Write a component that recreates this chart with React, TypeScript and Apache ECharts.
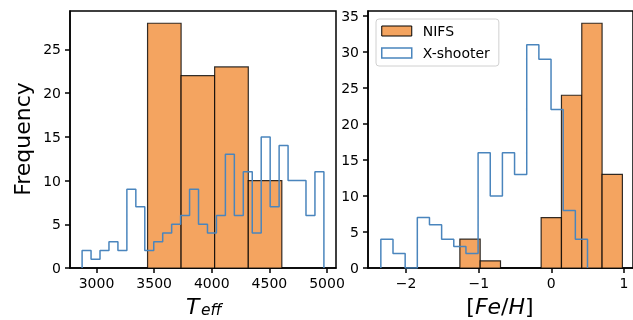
import React, { useEffect, useRef } from "react";
import * as echarts from "echarts";

// ---- Data ----
// Left panel: effective temperature
const teffXshooterRange = [2875, 4973]; // equal-width bins between these limits
const teffXshooterCounts = [2, 1, 2, 3, 2, 9, 7, 2, 3, 4, 5, 6, 9, 5, 4, 6, 13, 6, 11, 4, 15, 7, 14, 10, 10, 6, 11];
const teffNifsEdges = [3443, 3734, 4025, 4317, 4608];
const teffNifsCounts = [28, 22, 23, 10];
const teffTicks = [3000, 3500, 4000, 4500, 5000];
const freqTicksLeft = [0, 5, 10, 15, 20, 25];

// Right panel: metallicity
const fehXshooterRange = [-2.349, 0.499];
const fehXshooterCounts = [4, 2, 0, 7, 6, 4, 3, 2, 16, 10, 16, 13, 31, 29, 22, 8, 4];
const fehNifsEdges = [-1.26, -0.98, -0.7, -0.42, -0.14, 0.14, 0.42, 0.7, 0.98];
const fehNifsCounts = [4, 1, 0, 0, 7, 24, 34, 13];
const fehTicks = [-2, -1, 0, 1];
const freqTicksRight = [0, 5, 10, 15, 20, 25, 30, 35];

const seriesNames = ["NIFS", "X-shooter"];

const ORANGE = "#f4a460";
const BLUE = "#4a85bd";
const FONT = "DejaVu Sans";

function binEdges(range: number[], n: number): number[] {
  const w = (range[1] - range[0]) / n;
  const out: number[] = [];
  for (let i = 0; i <= n; i++) out.push(range[0] + i * w);
  return out;
}

function stepPoints(edges: number[], counts: number[]): number[][] {
  const pts: number[][] = [[edges[0], 0]];
  counts.forEach((c, i) => {
    pts.push([edges[i], c]);
    pts.push([edges[i + 1], c]);
  });
  pts.push([edges[edges.length - 1], 0]);
  return pts;
}

function barItems(edges: number[], counts: number[]): number[][] {
  return counts.map((c, i) => [edges[i], edges[i + 1], c]);
}

function renderBar(params: any, api: any) {
  const x0 = api.value(0);
  const x1 = api.value(1);
  const h = api.value(2);
  const p0 = api.coord([x0, h]);
  const p1 = api.coord([x1, 0]);
  return {
    type: "rect",
    shape: { x: p0[0], y: p0[1], width: p1[0] - p0[0], height: p1[1] - p0[1] },
    style: { fill: ORANGE, stroke: "rgba(0,0,0,0.8)", lineWidth: 1.2 },
  };
}

const minus = (v: number) => String(v).replace("-", "\u2212");

function xAxisCfg(gridIndex: number, min: number, max: number, ticks: number[], fmt?: (v: number) => string) {
  return {
    type: "value",
    gridIndex,
    min,
    max,
    axisLine: { show: true, onZero: false, lineStyle: { color: "#000", width: 1.5 } },
    axisTick: { show: true, length: 5, lineStyle: { color: "#000", width: 1.5 }, customValues: ticks },
    axisLabel: {
      color: "#000",
      fontSize: 14,
      fontFamily: FONT,
      margin: 8,
      customValues: ticks,
      formatter: fmt || ((v: number) => String(v)),
    },
    splitLine: { show: false },
  };
}

function yAxisCfg(gridIndex: number, max: number, ticks: number[]) {
  return {
    type: "value",
    gridIndex,
    min: 0,
    max,
    axisLine: { show: true, onZero: false, lineStyle: { color: "#000", width: 1.5 } },
    axisTick: { show: true, length: 5, lineStyle: { color: "#000", width: 1.5 }, customValues: ticks },
    axisLabel: { color: "#000", fontSize: 14, fontFamily: FONT, margin: 9, customValues: ticks },
    splitLine: { show: false },
  };
}

export default function App() {
  const ref = useRef<HTMLDivElement>(null);
  useEffect(() => {
    if (!ref.current) return;
    const chart = echarts.init(ref.current, null, { renderer: "svg" });
    const teffEdgesX = binEdges(teffXshooterRange, teffXshooterCounts.length);
    const fehEdgesX = binEdges(fehXshooterRange, fehXshooterCounts.length);
    const gridStyle = { show: true, borderColor: "#000", borderWidth: 1.5, backgroundColor: "transparent" };
    chart.setOption({
      animation: false,
      grid: [
        { left: 70, top: 11, width: 266, height: 257, ...gridStyle },
        { left: 368, top: 11, width: 268, height: 257, ...gridStyle },
      ],
      xAxis: [
        xAxisCfg(0, 2770, 5078, teffTicks),
        xAxisCfg(1, -2.526, 1.126, fehTicks, minus),
      ],
      yAxis: [yAxisCfg(0, 29.4, freqTicksLeft), yAxisCfg(1, 35.7, freqTicksRight)],
      legend: {
        orient: "vertical",
        left: 376,
        top: 19,
        padding: [5, 9, 6, 5],
        itemGap: 8,
        itemWidth: 30,
        itemHeight: 10,
        borderColor: "#d0d0d0",
        borderWidth: 1,
        borderRadius: 3,
        backgroundColor: "rgba(255,255,255,0.8)",
        textStyle: { fontSize: 14, fontFamily: FONT, color: "#000", padding: [0, 0, 0, 6], lineHeight: 14 },
        data: [
          { name: seriesNames[0], icon: "rect", itemStyle: { color: ORANGE, borderColor: "#000", borderWidth: 1 } },
          { name: seriesNames[1], icon: "rect", itemStyle: { color: "#fff", borderColor: BLUE, borderWidth: 1.5 } },
        ],
      },
      graphic: [
        {
          type: "text",
          x: 22,
          y: 139,
          rotation: Math.PI / 2,
          style: { text: "Frequency", fontSize: 22, fontFamily: FONT, fill: "#000", align: "center", verticalAlign: "middle" },
        },
        {
          type: "text",
          x: 186,
          y: 306,
          style: { text: "T", fontSize: 22, fontStyle: "italic", fontFamily: FONT, fill: "#000", align: "left", verticalAlign: "middle" },
        },
        {
          type: "text",
          x: 201,
          y: 310,
          style: { text: "eff", fontSize: 15.5, fontStyle: "italic", fontFamily: FONT, fill: "#000", align: "left", verticalAlign: "middle" },
        },
        {
          type: "text",
          x: 500,
          y: 306,
          style: {
            text: "{n|[}{i|Fe}{n|/}{i|H}{n|]}",
            align: "center",
            verticalAlign: "middle",
            rich: {
              n: { fontSize: 22, fontFamily: FONT, fill: "#000" },
              i: { fontSize: 22, fontFamily: FONT, fontStyle: "italic", fill: "#000" },
            },
          },
        },
      ],
      series: [
        {
          name: seriesNames[0],
          type: "custom",
          xAxisIndex: 0,
          yAxisIndex: 0,
          renderItem: renderBar,
          encode: { x: [0, 1], y: 2 },
          data: barItems(teffNifsEdges, teffNifsCounts),
        },
        {
          name: seriesNames[1],
          type: "line",
          xAxisIndex: 0,
          yAxisIndex: 0,
          showSymbol: false,
          z: 3,
          lineStyle: { color: BLUE, width: 1.5 },
          itemStyle: { color: BLUE },
          data: stepPoints(teffEdgesX, teffXshooterCounts),
        },
        {
          name: seriesNames[0],
          type: "custom",
          xAxisIndex: 1,
          yAxisIndex: 1,
          renderItem: renderBar,
          encode: { x: [0, 1], y: 2 },
          data: barItems(fehNifsEdges, fehNifsCounts),
        },
        {
          name: seriesNames[1],
          type: "line",
          xAxisIndex: 1,
          yAxisIndex: 1,
          showSymbol: false,
          z: 3,
          lineStyle: { color: BLUE, width: 1.5 },
          itemStyle: { color: BLUE },
          data: stepPoints(fehEdgesX, fehXshooterCounts),
        },
      ],
    });
    return () => chart.dispose();
  }, []);
  return <div ref={ref} style={{ position: "fixed", left: 0, top: 0, width: 633, height: 320 }} />;
}
